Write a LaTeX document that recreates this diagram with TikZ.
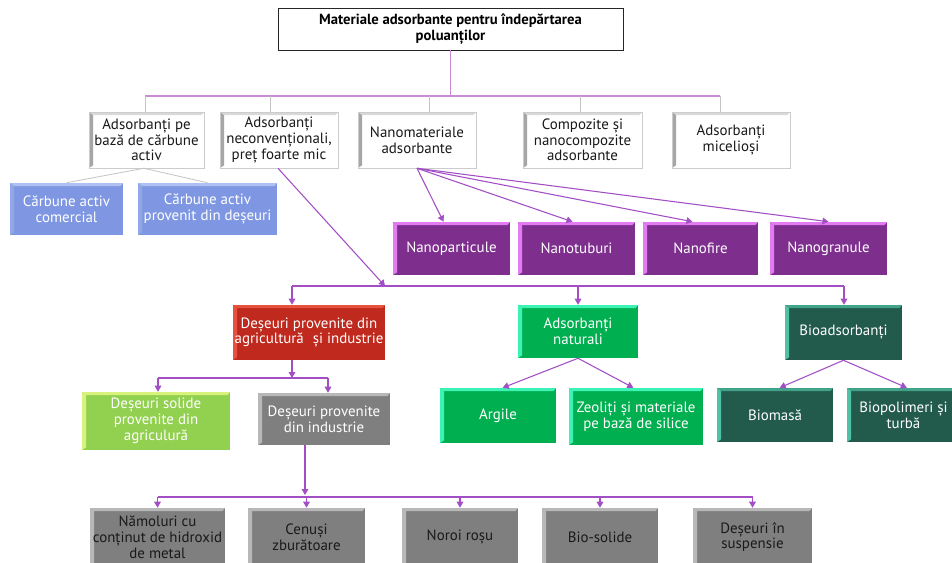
\documentclass[tikz,border=0pt]{standalone}
\usepackage{fontspec}
\setmainfont{PT Sans}
\usetikzlibrary{arrows.meta}

\definecolor{linkc}{HTML}{A24FC6}
\definecolor{topc}{HTML}{C98BD3}
\definecolor{dropc}{HTML}{C4C4C4}
\definecolor{bluef}{HTML}{7F97E2}
\definecolor{blueb}{HTML}{AFC0F2}
\definecolor{purf}{HTML}{7E2F8E}
\definecolor{purb}{HTML}{E37BF2}
\definecolor{redf}{HTML}{C0291D}
\definecolor{redb}{HTML}{E5533F}
\definecolor{natf}{HTML}{00B050}
\definecolor{natb}{HTML}{3DF2B5}
\definecolor{biof}{HTML}{225A4B}
\definecolor{biob}{HTML}{4FC2A6}
\definecolor{lgf}{HTML}{92D050}
\definecolor{lgb}{HTML}{D9F27E}
\definecolor{grf}{HTML}{7F7F7F}
\definecolor{grb}{HTML}{B8B8B8}

% box from corner (x1,y1) to (x2,y2), given in pixel units
\newcommand\boxat[7]{%
  \pgfmathsetmacro\bxc{(#2+#4)/2}%
  \pgfmathsetmacro\byc{(#3+#5)/2}%
  \pgfmathsetmacro\bxw{(#4-#2)*0.75}%
  \pgfmathsetmacro\bxh{(#5-#3)*0.75}%
  \node[#6, minimum width=\bxw pt, minimum height=\bxh pt] (#1) at (\bxc,\byc) {#7};}

\tikzset{
  bevel/.style 2 args={path picture={
    \fill[#1] (path picture bounding box.north west) -- (path picture bounding box.north east)
      -- ([xshift=-2pt,yshift=-2.4pt]path picture bounding box.north east)
      -- ([xshift=3pt,yshift=-2.4pt]path picture bounding box.north west) -- cycle;
    \fill[#2] (path picture bounding box.north west)
      -- ([xshift=3pt,yshift=-2.4pt]path picture bounding box.north west)
      -- ([xshift=3pt,yshift=2pt]path picture bounding box.south west)
      -- (path picture bounding box.south west) -- cycle;
  }},
  pbox/.style={rectangle, inner sep=0pt, align=center,
    font=\fontsize{11.2}{11.8}\selectfont},
  titlebox/.style={pbox, fill=white, draw=black!85, line width=0.7pt,
    font=\fontsize{11}{12.2}\selectfont\bfseries},
  wbox/.style={pbox, fill=white, draw=gray!40, line width=0.4pt,
    bevel={gray!30}{gray!70}, text=black!90},
  bluebox/.style={pbox, fill=bluef, bevel={blueb}{bluef!85!white}, text=white},
  purbox/.style={pbox, fill=purf, bevel={purb}{purb}, text=white},
  redbox/.style={pbox, fill=redf, bevel={redb}{redb}, text=white},
  natbox/.style={pbox, fill=natf, bevel={natb}{natb}, text=white},
  biobox/.style={pbox, fill=biof, bevel={biob!70!biof}{biob}, text=white},
  lgbox/.style={pbox, fill=lgf, bevel={lgb}{lgb}, text=white},
  grbox/.style={pbox, fill=grf, bevel={grb}{grb}, text=white},
  dkbox/.style={pbox, fill=grf, bevel={grb}{grb}, text=black!90},
  topline/.style={draw=topc, line width=1pt},
  drop/.style={draw=dropc, line width=0.6pt},
  link/.style={draw=linkc, line width=0.8pt},
  arr/.style={link, -{Triangle[width=5pt,length=4.5pt]}},
}

\begin{document}
\begin{tikzpicture}[x=0.75pt,y=-0.75pt]
\useasboundingbox (0,0) rectangle (952,562);
\fill[white] (0,0) rectangle (952,562);

% title
\boxat{title}{278}{8}{623}{50}{titlebox}{Materiale adsorbante pentru îndepărtarea\\poluanților}

% first level
\boxat{carb}{89}{112}{204}{168}{wbox}{Adsorbanți pe\\bază de cărbune\\activ}
\boxat{necon}{220}{112}{338}{168}{wbox}{Adsorbanți\\neconvenționali,\\preț foarte mic}
\boxat{nanom}{358}{112}{476}{168}{wbox}{Nanomateriale\\adsorbante}
\boxat{compo}{523}{112}{642}{168}{wbox}{Compozite și\\nanocompozite\\adsorbante}
\boxat{micel}{672}{112}{790}{168}{wbox}{Adsorbanți\\micelioși}

% activated carbon
\boxat{comerc}{10}{183}{123}{235}{bluebox}{Cărbune activ\\comercial}
\boxat{deseu}{138}{183}{277}{235}{bluebox}{Cărbune activ\\provenit din deșeuri}

% nanomaterials
\boxat{npart}{393}{222}{510}{275}{purbox}{Nanoparticule}
\boxat{ntub}{518}{222}{635}{275}{purbox}{Nanotuburi}
\boxat{nfir}{643}{222}{758}{275}{purbox}{Nanofire}
\boxat{ngran}{770}{222}{887}{275}{purbox}{Nanogranule}

% low-cost adsorbents
\boxat{agrind}{233}{305}{385}{360}{redbox}{Deșeuri provenite din\\agricultură\,\, și industrie}
\boxat{natur}{518}{305}{638}{358}{natbox}{Adsorbanți\\naturali}
\boxat{bioads}{785}{305}{902}{360}{biobox}{Bioadsorbanți}

\boxat{solide}{82}{392}{230}{450}{lgbox}{Deșeuri solide\\provenite din\\agriculură}
\boxat{indus}{258}{393}{390}{445}{grbox}{Deșeuri provenite\\din industrie}
\boxat{argile}{440}{388}{556}{443}{natbox}{Argile}
\boxat{zeol}{569}{388}{703}{445}{natbox}{Zeoliți și materiale\\pe bază de silice}
\boxat{biom}{717}{388}{833}{442}{biobox}{Biomasă}
\boxat{biopol}{847}{388}{960}{442}{biobox}{Biopolimeri și\\turbă}

% industrial waste
\boxat{namol}{90}{508}{225}{566}{dkbox}{Nămoluri cu\\conținut de hidroxid\\de metal}
\boxat{cenusi}{248}{508}{365}{566}{dkbox}{Cenuși\\zburătoare}
\boxat{noroi}{402}{508}{518}{566}{dkbox}{Noroi roșu}
\boxat{biosol}{542}{508}{658}{566}{dkbox}{Bio-solide}
\boxat{susp}{693}{508}{812}{566}{dkbox}{Deșeuri în\\suspensie}

% title bus
\coordinate (busA) at (145,96);
\coordinate (busB) at (720,96);
\draw[topline] (title.south) -- (title.south |- busA);
\draw[topline] (busA) -- (busB);
\draw[drop] ([xshift=-1pt]carb.north) -- ++(0,-16);
\draw[drop] ([xshift=-6.75pt]necon.north) -- ++(0,-16);
\draw[drop] ([xshift=9pt]nanom.north) -- ++(0,-16);
\draw[drop] ([xshift=-1.5pt]compo.north) -- ++(0,-16);
\draw[drop] (micel.north -| busB) -- (busB);

% activated carbon branches
\draw[drop] ([xshift=-2pt]carb.south) -- (comerc.north);
\draw[drop] ([xshift=-2pt]carb.south) -- (deseu.north);

% nanomaterial branches
\draw[arr] (nanom.south) -- ([xshift=-6pt]npart.north);
\draw[arr] (nanom.south) -- ([xshift=-3pt]ntub.north);
\draw[arr] (nanom.south) -- ([xshift=-6pt]nfir.north);
\draw[arr] (nanom.south) -- (ngran.north);

% low-cost bus
\coordinate (busC) at (292,286);
\coordinate (busD) at (844,286);
\draw[arr] ([xshift=-0.75pt]necon.south) -- (385,286);
\draw[link] (busC) -- (busD);
\draw[arr] (busC) -- (agrind.north -| busC);
\draw[arr] (natur.north |- busC) -- (natur.north);
\draw[arr] (busD) -- (bioads.north -| busD);

% agriculture and industry
\coordinate (busE) at (158,378);
\coordinate (busF) at (328,378);
\draw[arr] (agrind.south -| busC) -- (busC |- busE);
\draw[link] (busE) -- (busF);
\draw[arr] (busE) -- (solide.north -| busE);
\draw[arr] (busF) -- (indus.north -| busF);

% natural and bio adsorbents
\draw[arr] (natur.south) -- ([xshift=3.5pt]argile.north);
\draw[arr] (natur.south) -- ([xshift=-2pt]zeol.north);
\draw[arr] (bioads.south) -- ([xshift=3.5pt]biom.north);
\draw[arr] (bioads.south) -- ([xshift=2.5pt]biopol.north);

% industrial waste bus
\coordinate (busG) at (305,497);
\draw[arr] (indus.south -| busG) -- ([yshift=1.5pt]busG);
\draw[link] (namol.north |- busG) -- (susp.north |- busG);
\foreach \n in {namol,cenusi,noroi,biosol,susp}
  \draw[arr] (\n.north |- busG) -- (\n.north);
\end{tikzpicture}
\end{document}
